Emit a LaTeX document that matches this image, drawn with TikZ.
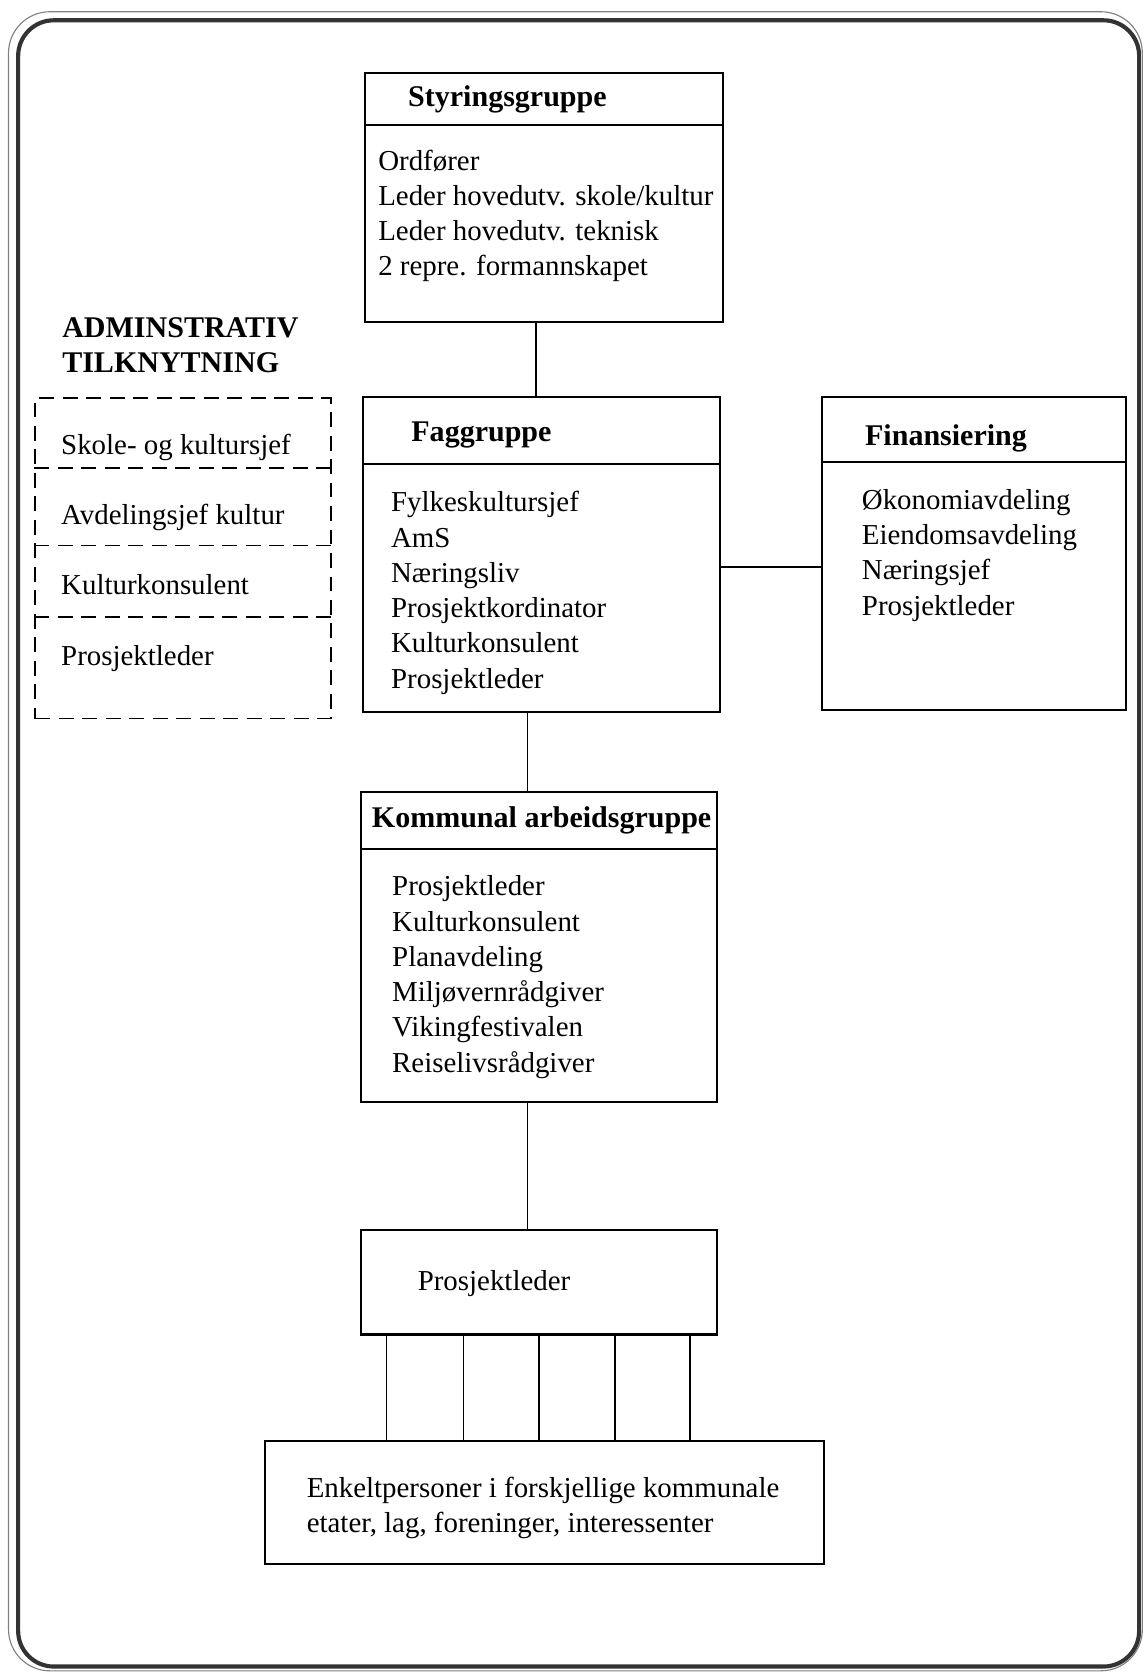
\documentclass[tikz,border=0pt]{standalone}
\usepackage{fontspec}
\setmainfont{Liberation Serif}
\usetikzlibrary{positioning,fit,calc}

\begin{document}
\begin{tikzpicture}[
  x=0.2mm, y=-0.2mm,
  box/.style={draw, line width=1.1pt, inner sep=0pt},
  dashbox/.style={draw, line width=1pt, dash pattern=on 2.8mm off 1.6mm, inner sep=0pt},
  dashline/.style={line width=1pt, dash pattern=on 2.8mm off 1.6mm},
  txt/.style={inner sep=0pt, align=left, anchor=north west, font=\fontsize{15.4}{18.8}\selectfont},
  headtxt/.style={inner sep=0pt, anchor=west, font=\fontsize{16}{18.8}\selectfont\bfseries},
  link/.style={line width=0.9pt}
]
  \useasboundingbox (0,0) rectangle (1072,1568);

  % Frame
  \draw[line width=0.6pt, black!50, rounded corners=22pt] (8,11) rectangle (1070,1565);
  \draw[line width=2.2pt, black!80, rounded corners=19pt] (17,19) rectangle (1067,1561);

  % Styringsgruppe
  \node[box, fit={(342,68) (677,302)}] (styr) {};
  \node[box, fit={(342,68) (677,117)}] (styrHead) {};
  \node[headtxt] (styrTitle) at (382,93) {Styringsgruppe};
  \node[txt] (styrList) at (354,140) {Ordfører\\Leder hovedutv. skole/kultur\\Leder hovedutv. teknisk\\2 repre. formannskapet};

  % Faggruppe
  \node[box, fit={(340,372) (674,667)}] (fag) {};
  \node[box, fit={(340,372) (674,435)}] (fagHead) {};
  \node[headtxt] (fagTitle) at (385,407) {Faggruppe};
  \node[txt] (fagList) at (366,460) {Fylkeskultursjef\\AmS\\Næringsliv\\Prosjektkordinator\\Kulturkonsulent\\Prosjektleder};

  % Finansiering
  \node[box, fit={(770,372) (1055,665)}] (fin) {};
  \node[box, fit={(770,372) (1055,433)}] (finHead) {};
  \node[headtxt] (finTitle) at (810,411) {Finansiering};
  \node[txt] (finList) at (807,458) {Økonomiavdeling\\Eiendomsavdeling\\Næringsjef\\Prosjektleder};

  % Kommunal arbeidsgruppe
  \node[box, fit={(338,742) (672,1032)}] (kom) {};
  \node[box, fit={(338,742) (672,795)}] (komHead) {};
  \node[headtxt] (komTitle) at (348,768) {Kommunal arbeidsgruppe};
  \node[txt] (komList) at (367,820) {Prosjektleder\\Kulturkonsulent\\Planavdeling\\Miljøvernrådgiver\\Vikingfestivalen\\Reiselivsrådgiver};

  % Prosjektleder and the people below
  \node[box, fit={(338,1152) (672,1250)}] (prosj) {};
  \node[txt] (prosjText) at (391,1190) {Prosjektleder};
  \node[box, fit={(248,1350) (772,1465)}] (enkel) {};
  \node[txt] (enkelText) at (287,1383) {Enkeltpersoner i forskjellige kommunale\\etater, lag, foreninger, interessenter};

  % Administrativ tilknytning
  \node[txt, font=\fontsize{16}{18.8}\selectfont\bfseries] (admTitle) at (58,297) {ADMINSTRATIV\\TILKNYTNING};
  \node[dashbox, fit={(33,373) (310,673)}] (adm) {};
  \foreach \yy in {438,511,578}
    \draw[dashline] (adm.west |- 0,\yy) -- (adm.east |- 0,\yy);
  \node[txt] (adm1) at (57,406) {Skole- og kultursjef};
  \node[txt] (adm2) at (57,472) {Avdelingsjef kultur};
  \node[txt] (adm3) at (57,538) {Kulturkonsulent};
  \node[txt] (adm4) at (57,604) {Prosjektleder};

  % Links
  \draw[link] ([xshift=-1.5mm]styr.south) -- ([xshift=-1.5mm]styr.south |- fag.north);
  \draw[link] ([xshift=-2.6mm]fag.south) -- ([xshift=-2.6mm]fag.south |- kom.north);
  \draw[link] ([yshift=-2.3mm]fag.east) -- ([yshift=-2.3mm]fag.east -| fin.west);
  \draw[link] ([xshift=-2.2mm]kom.south) -- ([xshift=-2.2mm]kom.south |- prosj.north);
  \foreach \dx in {-143,-71,0,71,141}
    \draw[link] ([xshift=\dx*0.2mm]prosj.south) -- ([xshift=\dx*0.2mm]prosj.south |- enkel.north);
\end{tikzpicture}
\end{document}
